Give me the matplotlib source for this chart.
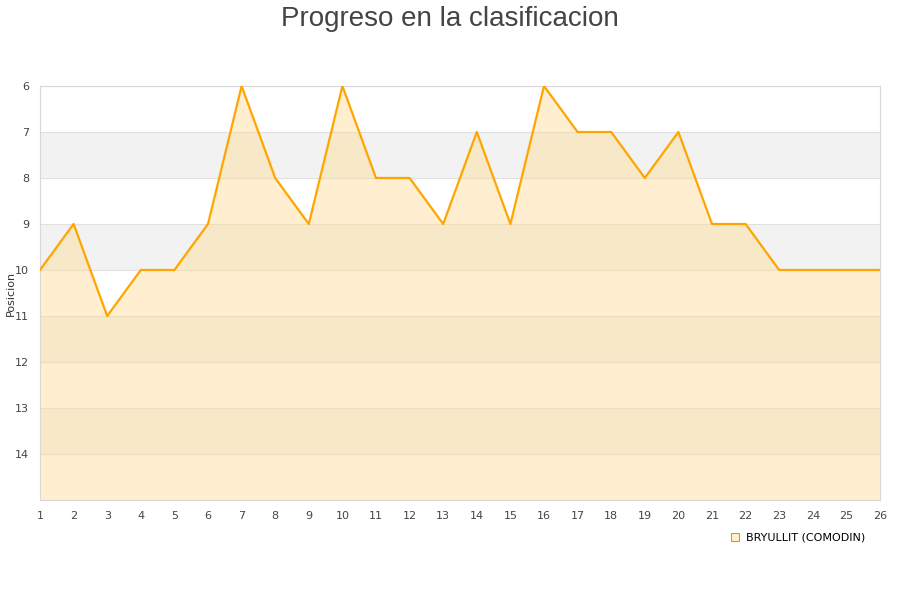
import matplotlib
matplotlib.use("Agg")
import matplotlib.pyplot as plt
from matplotlib.lines import Line2D

# Data
jornadas = list(range(1, 27))
posiciones = [10, 9, 11, 10, 10, 9, 6, 8, 9, 6, 8, 8, 9, 7, 9, 6, 7, 7, 8, 7, 9, 9, 10, 10, 10, 10]
y_ticks = [6, 7, 8, 9, 10, 11, 12, 13, 14]
team_name = "BRYULLIT (COMODIN)"
title = "Progreso en la clasificacion"

y_top, y_bottom = 6, 15

fig = plt.figure(figsize=(9, 6), dpi=100)
ax = fig.add_axes([40 / 900, 1 - 500 / 600, 840 / 900, 414 / 600])

# alternating horizontal bands
for lo in range(y_top, y_bottom):
    color = "#f2f2f2" if (lo - y_top) % 2 == 1 else "white"
    ax.axhspan(lo, lo + 1, color=color, zorder=0, lw=0)
for y in range(y_top, y_bottom + 1):
    ax.axhline(y, color="#e0e0e0", lw=0.8, zorder=1)

ax.fill_between(jornadas, posiciones, y_bottom, color="#ffd98a", alpha=0.4, lw=0, zorder=2)
ax.plot(jornadas, posiciones, color="#ffa500", lw=1.6, zorder=3)

ax.set_xlim(1, 26)
ax.set_ylim(y_bottom, y_top)
ax.set_xticks(jornadas)
ax.set_yticks(y_ticks)
ax.tick_params(axis="both", length=0, labelsize=8, colors="#444444", pad=8)
for side in ["top", "right", "bottom", "left"]:
    ax.spines[side].set_color("#d8d8d8")
ax.set_ylabel("Posicion", fontsize=8, color="#333333")
ax.yaxis.set_label_coords(-24 / 840, 0.5)

fig.suptitle(title, y=0.99, fontsize=20, color="#444444", family="Liberation Sans")

handle = Line2D([], [], marker="s", linestyle="none", markersize=6,
                markerfacecolor="#fff0cc", markeredgecolor="#cc9a3a", markeredgewidth=0.8)
fig.legend([handle], [team_name], loc="center left", bbox_to_anchor=(724 / 900, 1 - 538 / 600),
           frameon=False, fontsize=8, handletextpad=0.5, borderpad=0, handlelength=1)

fig.savefig("out.png", dpi=100)
